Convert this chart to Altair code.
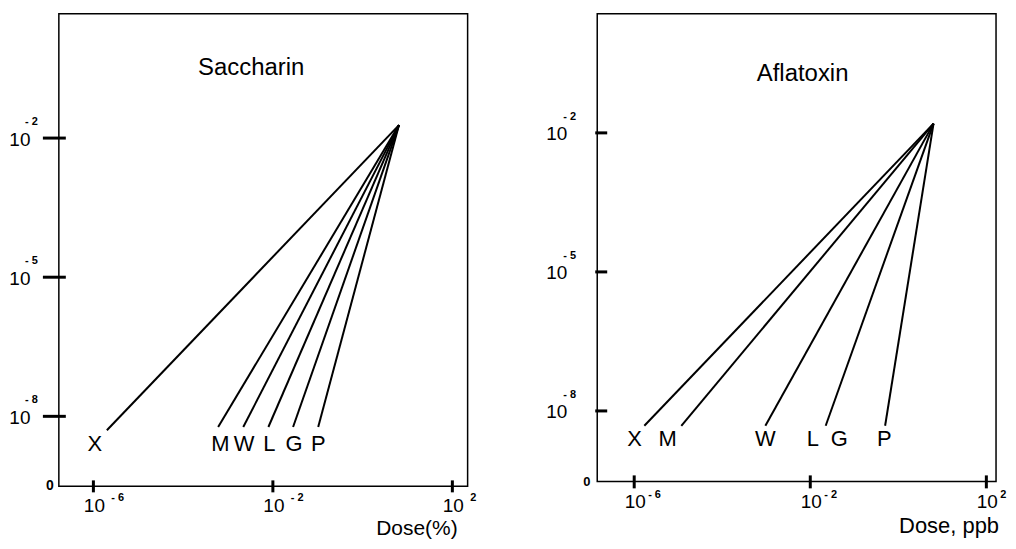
import altair as alt
import pandas as pd

FONT = "Liberation Sans"

# ---------------- data, in log10 units ----------------
# Saccharin panel: every line starts at one common apex
sac_apex_logdose = 0.81
sac_apex_logresp = -1.72
sac_line_names = ["X", "M", "W", "L", "G", "P"]
sac_end_logdose = [-5.70, -3.22, -2.66, -2.10, -1.55, -0.99]
sac_end_logresp = [-8.30, -8.23, -8.23, -8.23, -8.23, -8.23]
sac_label_names = ["X", "M", "W", "L", "G", "P"]
sac_label_logdose = [-5.97, -3.17, -2.64, -2.08, -1.53, -0.99]
sac_label_logresp = [-8.59, -8.59, -8.59, -8.59, -8.59, -8.59]

# Aflatoxin panel (L and G share one line)
afl_apex_logdose = 0.80
afl_apex_logresp = -1.80
afl_line_names = ["X", "M", "W", "L/G", "P"]
afl_end_logdose = [-5.77, -4.93, -3.02, -1.65, -0.30]
afl_end_logresp = [-8.32, -8.32, -8.32, -8.32, -8.32]
afl_label_names = ["X", "M", "W", "L", "G", "P"]
afl_label_logdose = [-5.99, -5.24, -3.02, -1.94, -1.34, -0.32]
afl_label_logresp = [-8.60, -8.60, -8.60, -8.60, -8.60, -8.60]

# axis ticks
x_tick_exp = [-6, -2, 2]
x_tick_sup = ["- 6", "- 2", "2"]
y_tick_exp = [-2, -5, -8]
y_tick_sup = ["- 2", "- 5", "- 8"]

# axis extents (log10)
sac_xdom = [-6.77, 2.34]
sac_ydom = [-9.51, 0.68]
afl_xdom = [-6.84, 2.22]
afl_ydom = [-9.52, 0.57]


def p10(vals):
    return [10.0 ** v for v in vals]


def panel(title, title_x, title_y, xtitle, xtitle_x, xtitle_y, xtitle_size,
          W, H, xdom, ydom, apex, line_names, end_x, end_y,
          lab_names, lab_x, lab_y, ytick_x1, ytick_x2, ylab_x, ylab_dy,
          ysup_x, ysup_dy, zero_x, zero_y, zero_size, xtick_y1, xtick_y2,
          xlab_y, xsup_dx, xsup_dy, spacer):
    xs = alt.Scale(type="log", domain=p10(xdom), nice=False)
    ys = alt.Scale(type="log", domain=p10(ydom), nice=False)

    lines = pd.DataFrame({
        "name": line_names,
        "x0": p10([apex[0]] * len(line_names)),
        "y0": p10([apex[1]] * len(line_names)),
        "x1": p10(end_x),
        "y1": p10(end_y),
    })
    labels = pd.DataFrame({"name": lab_names, "x": p10(lab_x), "y": p10(lab_y)})
    yt = pd.DataFrame({"v": p10(y_tick_exp), "lab": ["10"] * 3, "sup": y_tick_sup})
    xt = pd.DataFrame({"v": p10(x_tick_exp), "lab": ["10"] * 3, "sup": x_tick_sup})
    txt = pd.DataFrame({"t": [title], "a": [xtitle], "z": ["0"]})

    layers = []
    layers.append(
        alt.Chart(lines).mark_rule(color="black", strokeWidth=2).encode(
            x=alt.X("x0:Q", scale=xs, axis=None),
            y=alt.Y("y0:Q", scale=ys, axis=None),
            x2="x1:Q", y2="y1:Q")
    )
    layers.append(
        alt.Chart(labels).mark_text(font=FONT, fontSize=22, color="black",
                                    baseline="middle", align="center").encode(
            x=alt.X("x:Q", scale=xs, axis=None),
            y=alt.Y("y:Q", scale=ys, axis=None),
            text="name:N")
    )
    # y ticks
    layers.append(
        alt.Chart(yt).mark_rule(color="black", strokeWidth=3).encode(
            y=alt.Y("v:Q", scale=ys, axis=None),
            x=alt.value(ytick_x1), x2=alt.value(ytick_x2))
    )
    layers.append(
        alt.Chart(yt).mark_text(font=FONT, fontSize=19, align="right",
                                baseline="middle", dy=ylab_dy).encode(
            y=alt.Y("v:Q", scale=ys, axis=None), x=alt.value(ylab_x),
            text="lab:N")
    )
    layers.append(
        alt.Chart(yt).mark_text(font=FONT, fontSize=11, fontWeight="bold",
                                align="left", baseline="middle",
                                dy=ysup_dy).encode(
            y=alt.Y("v:Q", scale=ys, axis=None), x=alt.value(ysup_x),
            text="sup:N")
    )
    # x ticks
    layers.append(
        alt.Chart(xt).mark_rule(color="black", strokeWidth=3).encode(
            x=alt.X("v:Q", scale=xs, axis=None),
            y=alt.value(xtick_y1), y2=alt.value(xtick_y2))
    )
    layers.append(
        alt.Chart(xt).mark_text(font=FONT, fontSize=19, align="center",
                                baseline="middle", dx=1).encode(
            x=alt.X("v:Q", scale=xs, axis=None), y=alt.value(xlab_y),
            text="lab:N")
    )
    layers.append(
        alt.Chart(xt).mark_text(font=FONT, fontSize=11, fontWeight="bold",
                                align="left", baseline="middle",
                                dx=xsup_dx, dy=xsup_dy).encode(
            x=alt.X("v:Q", scale=xs, axis=None), y=alt.value(xlab_y),
            text="sup:N")
    )
    # "0" at the origin
    layers.append(
        alt.Chart(txt).mark_text(font=FONT, fontSize=zero_size, fontWeight="bold",
                                 align="center", baseline="middle").encode(
            x=alt.value(zero_x), y=alt.value(zero_y), text="z:N")
    )
    # panel title
    layers.append(
        alt.Chart(txt).mark_text(font=FONT, fontSize=24, align="center",
                                 baseline="alphabetic").encode(
            x=alt.value(title_x), y=alt.value(title_y), text="t:N")
    )
    # axis title
    layers.append(
        alt.Chart(txt).mark_text(font=FONT, fontSize=xtitle_size, align="right",
                                 baseline="alphabetic").encode(
            x=alt.value(xtitle_x), y=alt.value(xtitle_y), text="a:N")
    )
    if spacer:
        layers.append(
            alt.Chart(txt).mark_rule(strokeOpacity=0).encode(
                x=alt.value(0), y=alt.value(-spacer), y2=alt.value(0))
        )
    return alt.layer(*layers).properties(width=W, height=H)


WL, HL = 410, 474
left = panel("Saccharin", 193, 61, "Dose(%)", 400, HL + 49, 21,
             WL, HL, sac_xdom, sac_ydom, (sac_apex_logdose, sac_apex_logresp),
             sac_line_names, sac_end_logdose, sac_end_logresp,
             sac_label_names, sac_label_logdose, sac_label_logresp,
             -16, 7, -28.5, 2, -34, -16, -9, HL, 14, HL - 6, HL + 6,
             HL + 20, 18, -8, 4)

WR, HR = 400, 469
right = panel("Aflatoxin", 206, 67, "Dose, ppb", WR + 3, HR + 52, 22,
              WR, HR, afl_xdom, afl_ydom, (afl_apex_logdose, afl_apex_logresp),
              afl_line_names, afl_end_logdose, afl_end_logresp,
              afl_label_names, afl_label_logdose, afl_label_logresp,
              -2, 10, -30, 1.5, -34, -15.5, -10.5, HR + 1, 13, HR - 6, HR + 7,
              HR + 20.5, 14, -7, 0)

chart = alt.hconcat(left, right, spacing=68).properties(
    padding={"left": 0, "top": 0, "right": 0, "bottom": 0},
    background="white",
).configure_view(stroke="black", strokeWidth=1.5)

chart.save("out.html", embed_options={"renderer": "svg", "actions": False})
